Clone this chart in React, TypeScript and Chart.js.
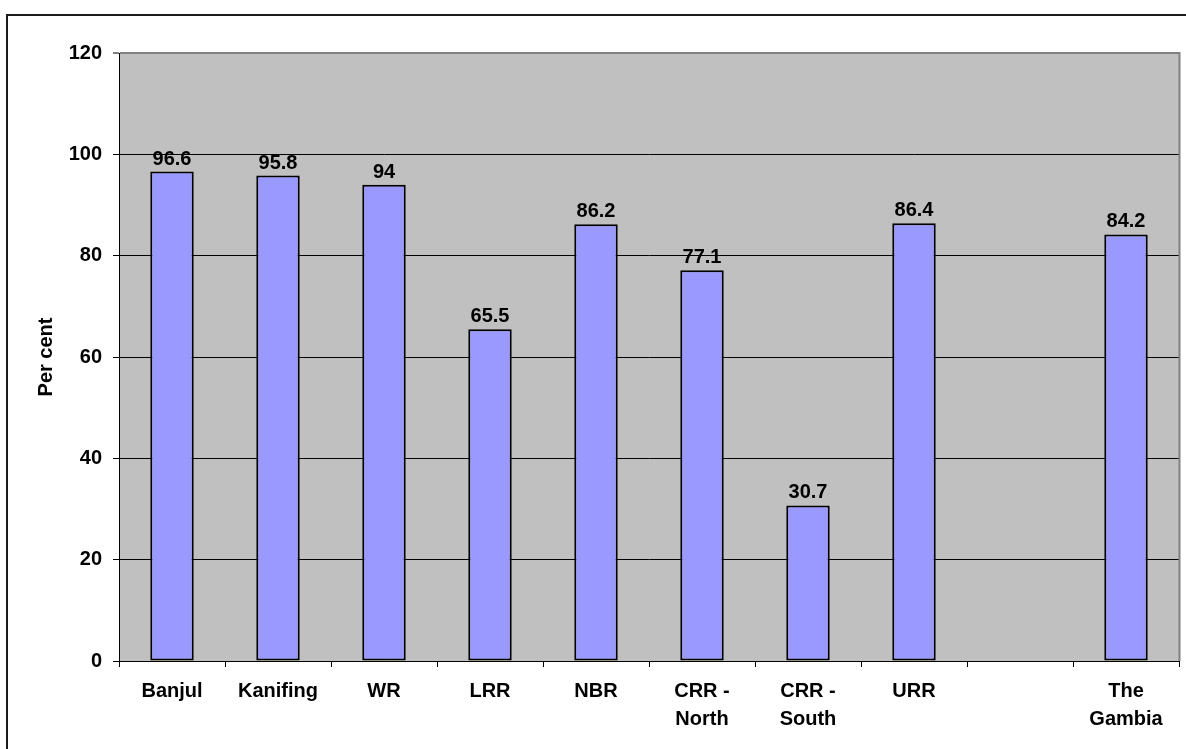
import React, { useEffect, useRef } from 'react';
import { Chart, registerables } from 'chart.js';

Chart.register(...registerables);

const categories: (string | string[])[] = [
  'Banjul',
  'Kanifing',
  'WR',
  'LRR',
  'NBR',
  ['CRR -', 'North'],
  ['CRR -', 'South'],
  'URR',
  '',
  ['The', 'Gambia'],
];
const values: (number | null)[] = [96.6, 95.8, 94, 65.5, 86.2, 77.1, 30.7, 86.4, null, 84.2];
const yMin = 0;
const yMax = 120;
const yStep = 20;
const yTitle = 'Per cent';

const FONT = "'Liberation Sans', Arial, Helvetica, sans-serif";

const framePlugin = {
  id: 'frame',
  beforeDraw(chart: any) {
    const { ctx, chartArea, width, height } = chart;
    ctx.save();
    ctx.fillStyle = '#ffffff';
    ctx.fillRect(0, 0, width, height);
    ctx.fillStyle = '#C0C0C0';
    ctx.fillRect(chartArea.left, chartArea.top, chartArea.right - chartArea.left, chartArea.bottom - chartArea.top);
    ctx.strokeStyle = '#1a1a1a';
    ctx.lineWidth = 2;
    ctx.strokeRect(7, 15, width + 20, height + 20);
    ctx.restore();
  },
  afterDraw(chart: any) {
    const { ctx, chartArea } = chart;
    ctx.save();
    ctx.strokeStyle = '#808080';
    ctx.lineWidth = 2;
    ctx.beginPath();
    ctx.moveTo(chartArea.right + 0.5, chartArea.top - 1);
    ctx.lineTo(chartArea.right + 0.5, chartArea.bottom);
    ctx.stroke();
    ctx.restore();
  },
};

const labelPlugin = {
  id: 'valueLabels',
  afterDatasetsDraw(chart: any) {
    const { ctx } = chart;
    const meta = chart.getDatasetMeta(0);
    ctx.save();
    ctx.font = `bold 20px ${FONT}`;
    ctx.fillStyle = '#000000';
    ctx.textAlign = 'center';
    ctx.textBaseline = 'alphabetic';
    meta.data.forEach((bar: any, i: number) => {
      const v = values[i];
      if (v === null || v === undefined) return;
      ctx.fillText(String(v), bar.x, bar.y - 7);
    });
    ctx.restore();
  },
};

export default function App() {
  const canvasRef = useRef<HTMLCanvasElement | null>(null);

  useEffect(() => {
    if (!canvasRef.current) return;
    const chart = new Chart(canvasRef.current, {
      type: 'bar',
      data: {
        labels: categories as any,
        datasets: [
          {
            data: values as any,
            backgroundColor: '#9999FF',
            borderColor: '#000000',
            borderWidth: 2,
            borderSkipped: false,
            barPercentage: 0.41,
            categoryPercentage: 1,
          },
        ],
      },
      options: {
        responsive: false,
        animation: false,
        devicePixelRatio: 1,
        layout: { padding: { top: 53, right: 7, left: 0, bottom: 0 } },
        plugins: {
          legend: { display: false },
          tooltip: { enabled: false },
          title: { display: false },
        },
        scales: {
          x: {
            afterFit(scale: any) {
              scale.height = 88;
            },
            grid: {
              offset: true,
              drawOnChartArea: false,
              drawTicks: true,
              tickLength: 6,
              color: '#000000',
              lineWidth: 1,
            },
            border: { display: true, color: '#000000', width: 1 },
            ticks: {
              autoSkip: false,
              maxRotation: 0,
              minRotation: 0,
              padding: 10,
              color: '#000000',
              font: { family: FONT, size: 20, weight: 'bold', lineHeight: 1.4 },
            },
          },
          y: {
            min: yMin,
            max: yMax,
            afterFit(scale: any) {
              scale.width = 119;
            },
            grid: {
              drawTicks: true,
              tickLength: 6,
              color: (c: any) => (c.tick && c.tick.value === yMax ? '#808080' : '#000000'),
              lineWidth: (c: any) => (c.tick && c.tick.value === yMax ? 2 : 1),
              tickColor: '#000000',
              tickWidth: 1,
            },
            border: { display: true, color: '#000000', width: 1 },
            ticks: {
              stepSize: yStep,
              padding: 11,
              color: '#000000',
              font: { family: FONT, size: 20, weight: 'bold' },
            },
            title: {
              display: true,
              text: yTitle,
              color: '#000000',
              font: { family: FONT, size: 20, weight: 'bold', lineHeight: 1.2 },
              padding: { top: 34, bottom: 0 },
            },
          },
        },
      },
      plugins: [framePlugin, labelPlugin],
    });
    return () => chart.destroy();
  }, []);

  return (
    <div style={{ position: 'fixed', left: 0, top: 0, width: 1186, height: 749, background: '#fff' }}>
      <canvas ref={canvasRef} width={1186} height={749} style={{ display: 'block', width: 1186, height: 749 }} />
    </div>
  );
}
